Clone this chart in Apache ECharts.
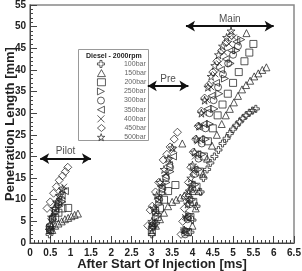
<!DOCTYPE html>
<html><head><meta charset="utf-8">
<script src="https://cdn.jsdelivr.net/npm/echarts@6/dist/echarts.min.js"></script>
<style>html,body{margin:0;padding:0;background:#fff}#c{width:302px;height:271px}</style>
</head><body><div id="c"></div>
<script>
// ---- data (ms, mm) ----
const s100bar = [[0.48,2],[0.5,2.8],[0.53,3.6],[3.0,2],[3.04,3.7],[3.1,4.6],
 [3.95,2.5],[4.0,5.3],[4.1,8.5],[4.2,11.8],[4.27,15],[4.36,17],[4.44,18.5],[4.54,20],[4.64,21.5],[4.74,23],[4.84,24.2],[4.92,25.3],[5.0,26.3],[5.08,27.2],[5.16,28],[5.24,28.8],[5.32,29.5],[5.4,30.1],[5.48,30.6],[5.56,31]];
const s150bar = [[0.55,3],[0.62,4],[0.7,4.5],[0.78,5],[0.86,5.5],[0.94,5.8],[1.02,6.2],[1.1,6.5],[1.18,6.8],
 [3.0,2.5],[3.1,4],[3.2,5.5],[3.3,7],[3.4,8.5],[3.5,9.5],[3.6,10],[3.7,10.5],[3.8,11],[3.9,11.5],[4.0,12],[3.75,23],
 [4.0,4],[4.08,8],[4.16,12],[4.26,16],[4.36,19.5],[4.48,22.5],[4.6,25],[4.72,27.5],[4.82,29.5],[4.92,31],[5.02,32.5],[5.12,34],[5.22,35.5],[5.32,36.5],[5.42,37.5],[5.52,38.5],[5.62,39.2],[5.72,40],[5.82,40.6],[5.33,48.5]];
const s200bar = [[0.5,3],[0.62,5.8],[0.7,7],[0.8,8],[0.94,8.1],
 [3.0,3],[3.14,6],[3.2,8],[3.3,10],[3.4,12],[3.58,13.4],
 [3.88,2.5],[3.95,6],[4.02,9.5],[4.1,13],[4.18,16.5],[4.28,20],[4.38,23.5],[4.5,26.5],[4.62,29.5],[4.74,32],[4.87,34.5],[5.0,37],[5.14,39.5],[5.28,42],[5.4,44],[5.5,46]];
const s250bar = [[0.5,3.5],[0.57,5.5],[0.64,7],[0.72,8.5],[0.8,9.5],
 [3.02,3.5],[3.1,6],[3.18,9],[3.27,11.5],[3.36,14],[3.46,16.5],
 [3.85,3],[3.92,6.5],[3.99,10],[4.07,13.5],[4.15,17],[4.24,20.5],[4.33,24],[4.43,27.5],[4.54,31],[4.66,34.5],[4.8,38],[4.94,41.5],[5.08,44.5],[5.2,47]];
const s300bar = [[0.48,3.8],[0.55,5.5],[0.62,7.5],[0.7,9],[0.78,10],
 [3.02,4],[3.1,7],[3.18,10],[3.26,12.5],[3.35,15],[3.45,17.5],
 [3.82,2],[3.88,5.5],[3.94,9],[4.0,12.5],[4.07,16],[4.15,19.5],[4.23,23],[4.32,26.5],[4.42,30],[4.52,33],[4.63,36],[4.75,39],[4.88,41.5],[5.0,43.5],[5.12,45.5]];
const s350bar = [[0.48,4],[0.55,6],[0.62,8],[0.7,9.5],[0.78,11],[0.86,12],
 [3.0,4.5],[3.08,7.5],[3.16,10.5],[3.24,13],[3.33,15.5],[3.42,18],[3.52,20],
 [3.8,2.5],[3.86,6],[3.92,10],[3.98,13.5],[4.05,17],[4.12,20.5],[4.2,24],[4.28,27.5],[4.37,31],[4.47,34],[4.58,37],[4.7,40],[4.82,42.5],[4.95,44.5],[5.08,46.5]];
const s400bar = [[0.5,5],[0.57,7],[0.63,9],[0.7,10.5],[0.77,12],[0.84,13],
 [3.02,4],[3.1,7],[3.18,10],[3.25,13],[3.35,16],[3.45,19],[3.55,21.5],
 [3.78,3],[3.82,6],[3.87,9.5],[3.93,13],[4.0,16.5],[4.06,20],[4.13,23.5],[4.2,27],[4.28,30],[4.36,33],[4.46,36],[4.56,39],[4.66,41.5],[4.78,44],[4.9,46],[5.02,47.5]];
const s450bar = [[0.42,8],[0.5,9.5],[0.58,11.5],[0.65,13],[0.72,14.5],[0.8,15.5],[0.87,16.5],[0.93,17.5],
 [2.9,4],[2.96,7.6],[3.01,8.5],[3.09,11.8],[3.17,14],[3.28,19.2],[3.37,20.5],[3.45,22.2],[3.55,24],[3.63,25.6],
 [3.72,2],[3.76,5],[3.8,8],[3.85,11],[3.9,14],[3.96,17.5],[4.02,21],[4.08,24],[4.14,27],[4.22,30.5],[4.3,33.5],[4.4,36.5],[4.5,39.5],[4.6,42],[4.72,44.5],[4.84,46.5],[4.96,48]];
const s500bar = [[0.47,3],[0.53,6],[0.6,8],[0.66,9.5],[0.73,11],[0.8,12.5],
 [3.0,5],[3.05,8],[3.12,11],[3.2,14],[3.3,17],[3.4,19.5],[3.5,22],
 [3.8,3],[3.85,6],[3.88,9],[3.92,12],[3.96,15],[4.0,18],[4.05,21],[4.1,24],[4.16,27],[4.22,30],[4.3,33],[4.38,36],[4.46,38.5],[4.55,41],[4.64,43.5],[4.74,45.5],[4.84,47.5],[4.95,49]];
const seriesNames = ['100bar','150bar','200bar','250bar','300bar','350bar','400bar','450bar','500bar'];
const seriesData = [s100bar,s150bar,s200bar,s250bar,s300bar,s350bar,s400bar,s450bar,s500bar];
const arrowNames = ['Pilot','Pre','Main'];
const arrowFrom = [[0.25,19.5],[2.9,36.3],[3.84,50.1]];
const arrowTo = [[1.5,19.5],[3.9,36.3],[6.0,50.1]];
const legendTitle = 'Diesel - 2000rpm';

// ---- styling ----
const symbols = [
 'path://M35,0H65V35H100V65H65V100H35V65H0V35H35Z',
 'triangle','rect',
 'path://M0,0L100,50L0,100Z',
 'circle',
 'path://M100,0L0,50L100,100Z',
 'path://M0,0L100,100M100,0L0,100',
 'diamond',
 'path://M50,0L61,35H98L68,57L79,91L50,70L21,91L32,57L2,35H39Z'];
const sizes = [7,7,7,7,7,7,6,8,8];
const FONT = 'Liberation Sans';

const chart = echarts.init(document.getElementById('c'), null, {renderer:'canvas'});
const series = seriesNames.map((n,i)=>({
  name:n, type:'scatter', data:seriesData[i], symbol:symbols[i], symbolSize:sizes[i],
  itemStyle:{color:'rgba(0,0,0,0)', borderColor:'#222', borderWidth:0.95}, silent:true
}));
series.push({
  type:'line', data:[], silent:true,
  markLine:{silent:true, symbol:['arrow','arrow'], symbolSize:[8,9],
    lineStyle:{color:'#111', width:2, type:'solid'}, label:{show:false},
    data: arrowNames.map((n,i)=>[{coord:arrowFrom[i]},{coord:arrowTo[i]}])}
});
series.push({
  type:'scatter', silent:true, symbolSize:0, z:5,
  data: arrowNames.map((n,i)=>({name:n, value:[(arrowFrom[i][0]+arrowTo[i][0])/2, arrowFrom[i][1]]})),
  label:{show:true, position:'top', distance:2, formatter:'{b}', color:'#222', fontSize:10, fontFamily:FONT}
});
const axisCommon = {
  axisLine:{lineStyle:{color:'#444', width:1}},
  axisTick:{inside:true, length:7, lineStyle:{color:'#444'}},
  minorTick:{show:true, splitNumber:5, length:3, lineStyle:{color:'#444'}},
  splitLine:{show:false},
  axisLabel:{color:'#222', fontWeight:'bold', fontSize:10, fontFamily:FONT},
  nameLocation:'middle', nameMoveOverlap:false,
  nameTextStyle:{color:'#222', fontWeight:'bold', fontSize:13, fontFamily:FONT}
};
const legends = seriesNames.map((n,i)=>({
  data:[n], left:97, top:60 + i*9.15, padding:0, itemWidth:8, itemHeight:7, selectedMode:false,
  itemStyle:{color:'rgba(0,0,0,0)', borderColor:'#222', borderWidth:0.9},
  textStyle:{fontSize:7, color:'#666', fontFamily:FONT, padding:[0,0,0,14]}
}));
chart.setOption({
  animation:false, backgroundColor:'#fff',
  grid:{left:30, right:8, top:5, bottom:28, show:true, borderColor:'#888', borderWidth:1.5, containLabel:false, outerBoundsMode:'none'},
  xAxis:Object.assign({type:'value', min:0, max:6.5, interval:0.5, name:'After Start Of Injection [ms]', nameGap:15}, axisCommon,
    {axisLabel:Object.assign({}, axisCommon.axisLabel, {margin:5})}),
  yAxis:Object.assign({type:'value', min:0, max:55, interval:5, name:'Penetration Length [mm]', nameGap:13}, axisCommon,
    {axisLabel:Object.assign({}, axisCommon.axisLabel, {margin:4})}),
  legend:legends,
  graphic:[
    {type:'rect', left:78, top:49, shape:{width:70, height:91}, style:{fill:'#fff', stroke:'#999', lineWidth:1}, z:-1, silent:true},
    {type:'text', left:86, top:53, style:{text:legendTitle, fontSize:7, fontWeight:'bold', fill:'#222', fontFamily:FONT}, z:10}
  ],
  series:series
});
</script></body></html>
